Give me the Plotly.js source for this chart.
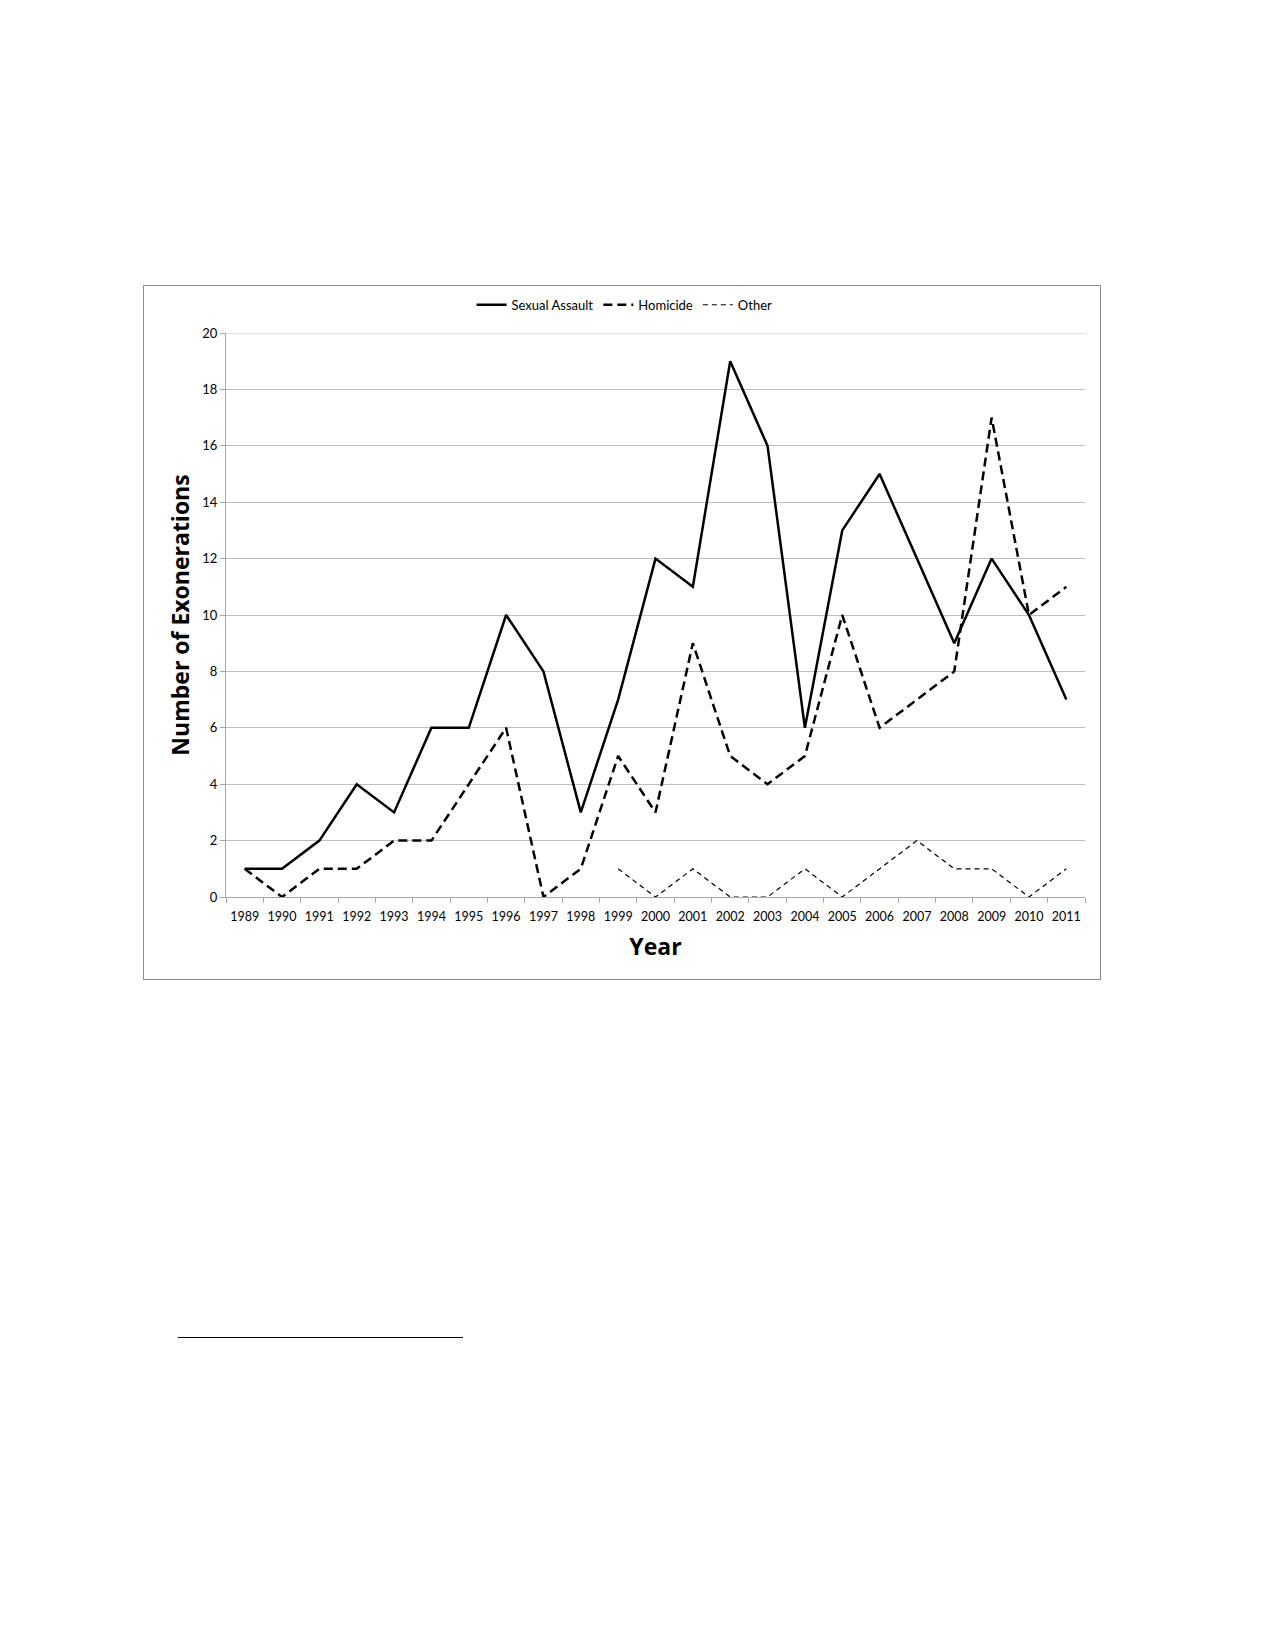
<!DOCTYPE html>
<html>
<head>
<meta charset="utf-8">
<script src="https://cdn.plot.ly/plotly-3.0.1.min.js"></script>
<style>
html,body{margin:0;padding:0;background:#fff;width:1275px;height:1650px;position:relative;}
#chart{position:absolute;left:143px;top:285px;width:958px;height:695px;box-sizing:border-box;border:1.5px solid #8c8c8c;}
#rule{position:absolute;left:178px;top:1337px;width:285px;height:0;border-top:1.5px solid #000;}
</style>
</head>
<body>
<div id="chart"></div>
<div id="rule"></div>
<script>
const years = ['1989','1990','1991','1992','1993','1994','1995','1996','1997','1998','1999','2000','2001','2002','2003','2004','2005','2006','2007','2008','2009','2010','2011'];
const sexualAssault = [1,1,2,4,3,6,6,10,8,3,7,12,11,19,16,6,13,15,12,9,12,10,7];
const homicide = [1,0,1,1,2,2,4,6,0,1,5,3,9,5,4,5,10,6,7,8,17,10,11];
const otherYears = ['1999','2000','2001','2002','2003','2004','2005','2006','2007','2008','2009','2010','2011'];
const other = [1,0,1,0,0,1,0,1,2,1,1,0,1];

const font = "Lato, 'Open Sans', sans-serif";
const traces = [
  {x: years, y: sexualAssault, name: 'Sexual Assault', mode: 'lines', line: {color: '#000', width: 2.5}},
  {x: years, y: homicide, name: 'Homicide', mode: 'lines', line: {color: '#000', width: 2.5, dash: '9px,5px'}},
  {x: otherYears, y: other, name: 'Other', mode: 'lines', line: {color: '#000', width: 1.2, dash: '5px,4px'}}
];
const layout = {
  width: 955, height: 692,
  margin: {l: 82, r: 14, t: 47, b: 81, autoexpand: false},
  paper_bgcolor: '#fff', plot_bgcolor: '#fff',
  font: {family: font, color: '#000', size: 13},
  showlegend: true,
  legend: {orientation: 'h', x: 0.464, xanchor: 'center', y: 1.05, yanchor: 'middle', font: {size: 13, family: font}, tracegroupgap: 0},
  shapes: [{type: 'line', xref: 'paper', yref: 'y', x0: 0, x1: 1, y0: 20, y1: 20, line: {color: '#bfbfbf', width: 1}, layer: 'below'}],
  xaxis: {
    type: 'category', categoryorder: 'array', categoryarray: years,
    tickson: 'boundaries', ticks: 'outside', ticklen: 5, tickcolor: '#a6a6a6',
    ticklabelstandoff: 8, tickangle: 0,
    showgrid: false, showline: true, linecolor: '#a6a6a6', linewidth: 1,
    range: [-0.5, 22.5], tickfont: {size: 12.5},
    title: {text: '<b>Year</b>', font: {size: 23, family: "'Open Sans', sans-serif"}, standoff: 15},
    zeroline: false, fixedrange: true
  },
  yaxis: {
    range: [0, 20], dtick: 2, tick0: 0,
    ticks: 'outside', ticklen: 5, tickcolor: '#a6a6a6',
    showgrid: true, gridcolor: '#bfbfbf', gridwidth: 1,
    showline: true, linecolor: '#a6a6a6', linewidth: 1,
    zeroline: false, tickfont: {size: 13},
    title: {text: '<b>Number of Exonerations</b>', font: {size: 23, family: "'Open Sans', sans-serif"}, standoff: 6}
  }
};
Plotly.newPlot('chart', traces, layout, {staticPlot: true, displayModeBar: false});
</script>
</body>
</html>
